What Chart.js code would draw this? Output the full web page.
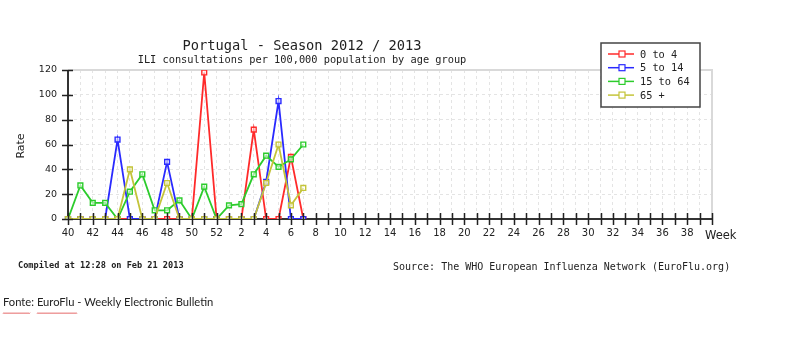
<!DOCTYPE html>
<html>
<head>
<meta charset="utf-8">
<script src="https://cdn.jsdelivr.net/npm/chart.js@4.4.1/dist/chart.umd.min.js"></script>
<style>
  html, body { margin: 0; padding: 0; background: #fff; }
</style>
</head>
<body>
<canvas id="myChart" width="796" height="350"></canvas>
<script>
// weeks of the season (last slot is the closing tick, left unlabeled)
var weeks = [40, 41, 42, 43, 44, 45, 46, 47, 48, 49, 50, 51, 52,
  1, 2, 3, 4, 5, 6, 7, 8, 9, 10, 11, 12, 13, 14, 15, 16, 17, 18, 19, 20,
  21, 22, 23, 24, 25, 26, 27, 28, 29, 30, 31, 32, 33, 34, 35, 36, 37, 38, 39, 40];

// rates per age group, week 40 .. week 7
var age0to4   = [0, 0, 0, 0, 0, 0, 0, 0, 0, 0, 0, 118, 0, 0, 0, 72, 0, 0, 50, 0];
var age5to14  = [0, 0, 0, 0, 64, 0, 0, 0, 46, 0, 0, 0, 0, 0, 0, 0, 30, 95, 0, 0];
var age15to64 = [0, 27, 13, 13, 0, 22, 36, 7, 7, 15, 0, 26, 0, 11, 12, 36, 51, 42, 48, 60];
var age65plus = [0, 0, 0, 0, 0, 40, 0, 0, 29, 0, 0, 0, 0, 0, 0, 0, 29, 60, 11, 25];

var groupNames = ["0 to 4", "5 to 14", "15 to 64", "65 +"];
var groupColors = ["#ff2a2a", "#2a2aff", "#2ccc2c", "#c4c43a"];
var yTicks = [0, 20, 40, 60, 80, 100, 120];

var title = "Portugal - Season 2012 / 2013";
var subtitle = "ILI consultations per 100,000 population by age group";

function series(i, values, order) {
  return {
    label: groupNames[i],
    data: values,
    borderColor: groupColors[i],
    borderWidth: 1.8,
    pointStyle: "rect",
    pointRadius: 3.4,
    pointBorderWidth: 1.4,
    pointBorderColor: groupColors[i],
    pointBackgroundColor: "rgba(255,255,255,0.55)",
    tension: 0,
    order: order
  };
}

var decor = {
  id: "decor",
  beforeDatasetsDraw(chart) {
    var ctx = chart.ctx, a = chart.chartArea;
    ctx.save();
    ctx.strokeStyle = "#d9d9d9";
    ctx.lineWidth = 2;
    ctx.beginPath();
    ctx.moveTo(a.left, a.top);
    ctx.lineTo(a.right, a.top);
    ctx.lineTo(a.right, a.bottom);
    ctx.stroke();
    ctx.strokeStyle = "#333";
    ctx.lineWidth = 2;
    ctx.beginPath();
    ctx.moveTo(a.left, a.top);
    ctx.lineTo(a.left, a.bottom);
    ctx.lineTo(a.right, a.bottom);
    ctx.stroke();
    ctx.restore();
  },
  afterDatasetsDraw(chart) {
    var ctx = chart.ctx, a = chart.chartArea;
    var xs = chart.scales.x, ys = chart.scales.y;
    ctx.save();
    ctx.strokeStyle = "#222";
    ctx.lineWidth = 1.5;
    ctx.beginPath();
    for (var i = 0; i < weeks.length; i++) {
      var px = Math.round(xs.getPixelForValue(i)) + 0.5;
      ctx.moveTo(px, a.bottom - 6);
      ctx.lineTo(px, a.bottom + 6);
    }
    yTicks.forEach(function (v) {
      var py = Math.round(ys.getPixelForValue(v)) + 0.5;
      ctx.moveTo(a.left - 6, py);
      ctx.lineTo(a.left + 5, py);
    });
    ctx.stroke();
    ctx.restore();
  },
  afterDraw(chart) {
    var ctx = chart.ctx, a = chart.chartArea;
    ctx.save();
    ctx.fillStyle = "#222";
    ctx.textBaseline = "middle";

    // titles
    ctx.textAlign = "center";
    ctx.font = "13.7px 'DejaVu Sans Mono'";
    ctx.fillText(title, 302, 46);
    ctx.font = "10.3px 'DejaVu Sans Mono'";
    ctx.fillText(subtitle, 302, 60);

    // axis names
    ctx.save();
    ctx.translate(21, 146);
    ctx.rotate(-Math.PI / 2);
    ctx.font = "11px 'DejaVu Sans'";
    ctx.fillText("Rate", 0, 0);
    ctx.restore();
    ctx.textAlign = "left";
    ctx.font = "11.5px 'DejaVu Sans'";
    ctx.fillText("Week", a.right - 7, 236);

    // footer
    ctx.font = "bold 8.6px 'DejaVu Sans Mono'";
    ctx.fillText("Compiled at 12:28 on Feb 21 2013", 18, 266);
    ctx.font = "10px 'DejaVu Sans Mono'";
    ctx.fillText("Source: The WHO European Influenza Network (EuroFlu.org)", 393, 267);
    ctx.font = "11.2px Lato";
    ctx.fillText("Fonte: EuroFlu - Weekly Electronic Bulletin", 3, 302);

    // spell-check squiggles
    ctx.strokeStyle = "#e05050";
    ctx.lineWidth = 0.8;
    [[3, 30], [37, 77]].forEach(function (s) {
      ctx.beginPath();
      for (var x = s[0]; x <= s[1]; x += 1) {
        var y = 313 + ((x % 2) ? 0.8 : -0.4);
        if (x === s[0]) ctx.moveTo(x, y); else ctx.lineTo(x, y);
      }
      ctx.stroke();
    });

    // legend
    ctx.fillStyle = "#fff";
    ctx.fillRect(601, 43, 99, 64);
    ctx.strokeStyle = "#444";
    ctx.lineWidth = 1.5;
    ctx.strokeRect(601, 43, 99, 64);
    ctx.font = "10.3px 'DejaVu Sans Mono'";
    chart.data.datasets.forEach(function (ds, i) {
      var ry = 54 + i * 13.7;
      ctx.strokeStyle = ds.borderColor;
      ctx.lineWidth = 1.5;
      ctx.beginPath();
      ctx.moveTo(608, ry);
      ctx.lineTo(634, ry);
      ctx.stroke();
      ctx.fillStyle = "#fff";
      ctx.fillRect(619, ry - 3, 6, 6);
      ctx.lineWidth = 1.2;
      ctx.strokeRect(619, ry - 3, 6, 6);
      ctx.fillStyle = "#222";
      ctx.fillText(ds.label, 640, ry + 1);
    });
    ctx.restore();
  }
};

var ctx = document.getElementById("myChart");
var myChart = new Chart(ctx, {
  type: "line",
  data: {
    labels: weeks,
    datasets: [
      series(0, age0to4, 4),
      series(1, age5to14, 3),
      series(2, age15to64, 2),
      series(3, age65plus, 1)
    ]
  },
  options: {
    responsive: false,
    animation: false,
    layout: { padding: { top: 70, right: 84, left: 0, bottom: 0 } },
    plugins: { legend: { display: false }, tooltip: { enabled: false } },
    scales: {
      x: {
        type: "category",
        offset: false,
        grid: { color: "#e4e4e4", lineWidth: 1, drawTicks: false, tickLength: 0 },
        border: { display: false, dash: [3, 3] },
        ticks: {
          autoSkip: false,
          maxRotation: 0,
          padding: 8,
          color: "#222",
          font: { family: "DejaVu Sans", size: 10 },
          callback: function (v, i) { return (i % 2 === 0 && i < weeks.length - 1) ? weeks[i] : ""; }
        },
        afterFit: function (s) { s.height = 131; }
      },
      y: {
        min: 0,
        max: 120,
        grid: { color: "#e4e4e4", lineWidth: 1, drawTicks: false, tickLength: 0 },
        border: { display: false, dash: [3, 3] },
        ticks: {
          stepSize: 10,
          padding: 11,
          color: "#222",
          font: { family: "DejaVu Sans", size: 9.5 },
          callback: function (v) { return yTicks.indexOf(v) >= 0 ? v : ""; }
        },
        afterFit: function (s) { s.width = 68; }
      }
    }
  },
  plugins: [decor]
});
</script>
</body>
</html>
